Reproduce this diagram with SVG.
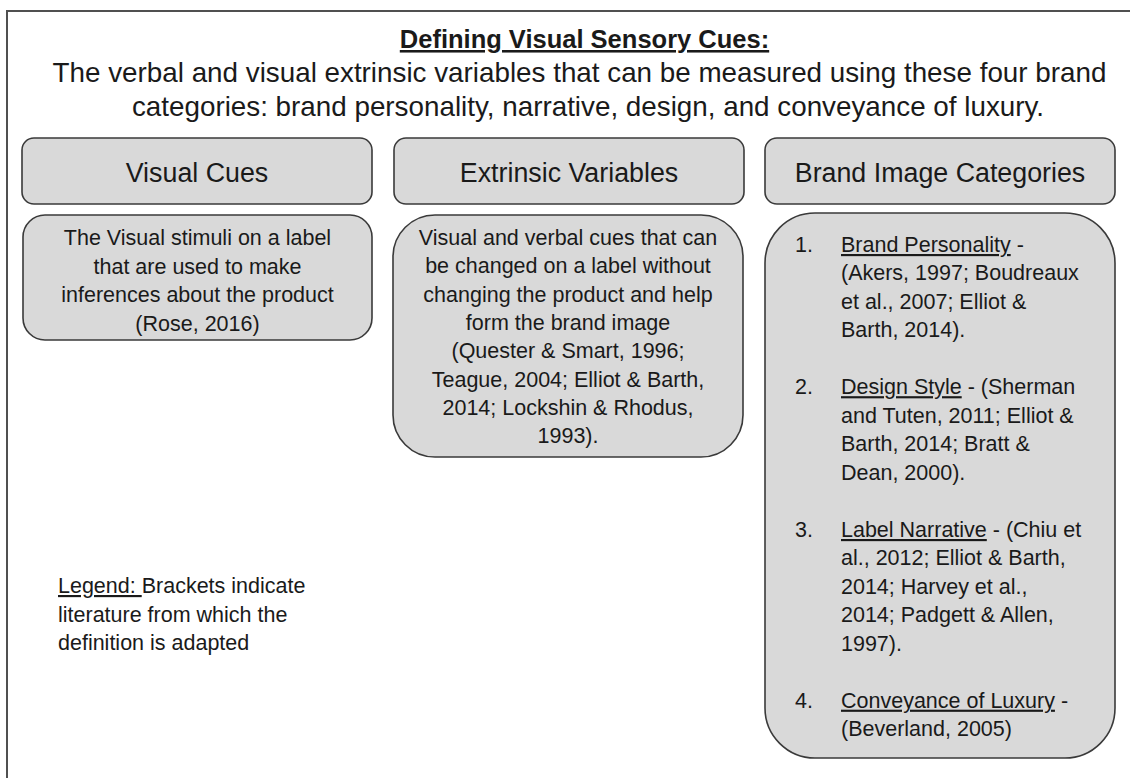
<svg xmlns="http://www.w3.org/2000/svg" width="1130" height="778" viewBox="0 0 1130 778">
<style>
text{font-family:"Liberation Sans",Arial,sans-serif;fill:#1a1a1a}
.title{font-size:25.5px;font-weight:bold;text-anchor:middle}
.sub{font-size:27.8px;text-anchor:middle}
.hdr{font-size:26.8px;text-anchor:middle}
.body{font-size:21.5px}
.mid{text-anchor:middle}
.box{fill:#d9d9d9;stroke:#3a3a3a;stroke-width:1.6}
.u{text-decoration:underline}
</style>
<rect width="1130" height="778" fill="#ffffff"/>
<g id="frame" fill="none" stroke="#505050" stroke-width="2">
<path d="M7,778 V11 H1130"/>
</g>
<g id="title">
<text class="title" x="584.5" y="48"><tspan class="u">Defining Visual Sensory Cues:</tspan></text>
<text class="sub" x="579.5" y="82">The verbal and visual extrinsic variables that can be measured using these four brand</text>
<text class="sub" x="588" y="116">categories: brand personality, narrative, design, and conveyance of luxury.</text>
</g>
<g id="connectors"></g>
<g id="hdr-visual-cues">
<rect class="box" x="22" y="138" width="350" height="66" rx="12"/>
<text class="hdr" x="197" y="181.5">Visual Cues</text>
</g>
<g id="hdr-extrinsic-variables">
<rect class="box" x="394" y="138" width="350" height="66" rx="12"/>
<text class="hdr" x="569" y="181.5">Extrinsic Variables</text>
</g>
<g id="hdr-brand-image-categories">
<rect class="box" x="765" y="138" width="350" height="66" rx="12"/>
<text class="hdr" x="940" y="181.5">Brand Image Categories</text>
</g>
<g id="def-visual-cues">
<rect class="box" x="23" y="215" width="349" height="125" rx="22"/>
<text class="body mid" x="197.5" y="245">The Visual stimuli on a label</text>
<text class="body mid" x="197.5" y="273.5">that are used to make</text>
<text class="body mid" x="197.5" y="302">inferences about the product</text>
<text class="body mid" x="197.5" y="330.5">(Rose, 2016)</text>
</g>
<g id="def-extrinsic-variables">
<rect class="box" x="393" y="215" width="350" height="242" rx="42"/>
<text class="body mid" x="568" y="245">Visual and verbal cues that can</text>
<text class="body mid" x="568" y="273.3">be changed on a label without</text>
<text class="body mid" x="568" y="301.6">changing the product and help</text>
<text class="body mid" x="568" y="329.9">form the brand image</text>
<text class="body mid" x="568" y="358.2">(Quester &amp; Smart, 1996;</text>
<text class="body mid" x="568" y="386.5">Teague, 2004; Elliot &amp; Barth,</text>
<text class="body mid" x="568" y="414.8">2014; Lockshin &amp; Rhodus,</text>
<text class="body mid" x="568" y="443.1">1993).</text>
</g>
<g id="def-brand-image-categories">
<rect class="box" x="765" y="213" width="350" height="545" rx="50"/>
<text class="body" x="795" y="252">1.</text>
<text class="body" x="841" y="252"><tspan class="u">Brand Personality</tspan> -</text>
<text class="body" x="841" y="280.4">(Akers, 1997; Boudreaux</text>
<text class="body" x="841" y="308.9">et al., 2007; Elliot &amp;</text>
<text class="body" x="841" y="337.3">Barth, 2014).</text>
<text class="body" x="795" y="394.2">2.</text>
<text class="body" x="841" y="394.2"><tspan class="u">Design Style</tspan> - (Sherman</text>
<text class="body" x="841" y="422.7">and Tuten, 2011; Elliot &amp;</text>
<text class="body" x="841" y="451.1">Barth, 2014; Bratt &amp;</text>
<text class="body" x="841" y="479.5">Dean, 2000).</text>
<text class="body" x="795" y="537">3.</text>
<text class="body" x="841" y="537"><tspan class="u">Label Narrative</tspan> - (Chiu et</text>
<text class="body" x="841" y="565.4">al., 2012; Elliot &amp; Barth,</text>
<text class="body" x="841" y="593.9">2014; Harvey et al.,</text>
<text class="body" x="841" y="622.3">2014; Padgett &amp; Allen,</text>
<text class="body" x="841" y="650.8">1997).</text>
<text class="body" x="795" y="707.7">4.</text>
<text class="body" x="841" y="707.7"><tspan class="u">Conveyance of Luxury</tspan> -</text>
<text class="body" x="841" y="736">(Beverland, 2005)</text>
</g>
<g id="legend">
<text class="body" x="58" y="593"><tspan class="u">Legend: </tspan>Brackets indicate</text>
<text class="body" x="58" y="621.5">literature from which the</text>
<text class="body" x="58" y="650">definition is adapted</text>
</g>
</svg>
